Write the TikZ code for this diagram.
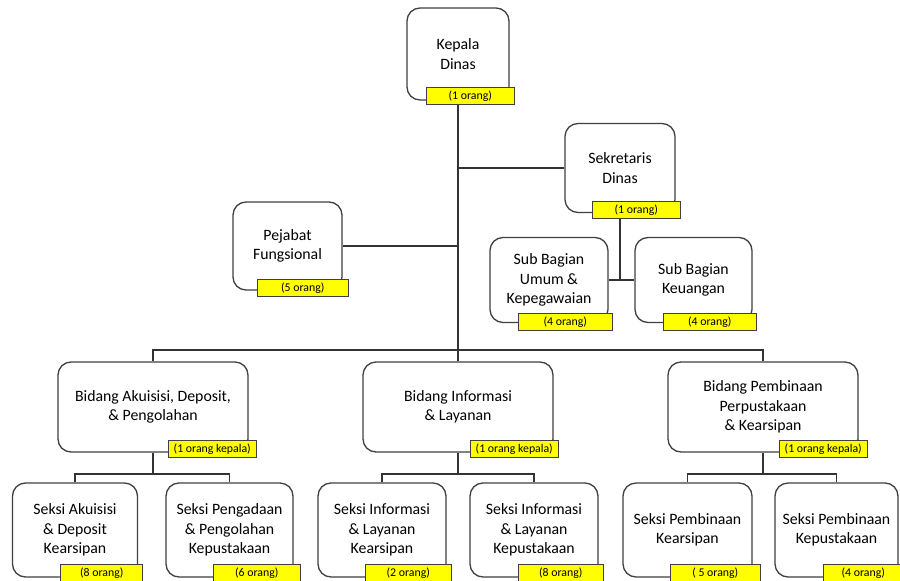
\documentclass[tikz,border=0pt]{standalone}
\usepackage{fontspec}
\setmainfont{Carlito}
\usepackage{tikz}
\usetikzlibrary{positioning, calc, backgrounds}
\definecolor{boxline}{HTML}{404040}
\definecolor{countfill}{HTML}{FFFF00}

\begin{document}
\begin{tikzpicture}[
  x=1pt, y=-1pt,
  unit/.style={rectangle, draw=boxline, line width=1.3pt, fill=white, rounded corners=13pt, align=center, inner sep=0pt, font=\fontsize{15.8}{19.5}\selectfont},
  bidang/.style={unit, minimum width=190pt, minimum height=90pt},
  seksi/.style={unit, minimum width=127pt, minimum height=94pt},
  count/.style={rectangle, draw=boxline, line width=0.8pt, fill=countfill, minimum width=88pt, minimum height=17pt, inner sep=0pt, anchor=south east, font=\fontsize{11.8}{12}\selectfont},
  link/.style={draw=boxline!80!black, line width=1.8pt}
]
  \useasboundingbox (0,0) rectangle (900,581);

  % pimpinan
  \node[unit, minimum width=102pt, minimum height=92pt] (kepala) at (458,54) {Kepala\\Dinas};
  \node[unit, minimum width=110pt, minimum height=89pt] (sek) at (620,168) {Sekretaris\\Dinas};
  \node[unit, minimum width=109pt, minimum height=88pt] (pejabat) at (287.5,246) {Pejabat\\Fungsional};
  \node[unit, minimum width=118pt, minimum height=85pt] (subumum) at (549,280) {Sub Bagian\\Umum \&\\Kepegawaian};
  \node[unit, minimum width=117pt, minimum height=85pt] (subkeu) at (693.5,280) {Sub Bagian\\Keuangan};

  % bidang
  \node[bidang] (bakuisisi) at (153,407) {Bidang Akuisisi, Deposit,\\\& Pengolahan};
  \node[bidang] (binfo) at (458,407) {Bidang Informasi\\\& Layanan};
  \node[bidang] (bpembinaan) at (763,407) {Bidang Pembinaan\\Perpustakaan\\\& Kearsipan};

  % seksi
  \node[seksi, minimum width=125pt] (s1) at (75,530) {Seksi Akuisisi\\\& Deposit\\Kearsipan};
  \node[seksi] (s2) at (229.5,530) {Seksi Pengadaan\\\& Pengolahan\\Kepustakaan};
  \node[seksi, minimum width=128pt] (s3) at (382,530) {Seksi Informasi\\\& Layanan\\Kearsipan};
  \node[seksi, minimum width=128pt] (s4) at (534,530) {Seksi Informasi\\\& Layanan\\Kepustakaan};
  \node[seksi, minimum width=129pt] (s5) at (687.5,530) {Seksi Pembinaan\\Kearsipan};
  \node[seksi, minimum width=123pt] (s6) at (836.5,530) {Seksi Pembinaan\\Kepustakaan};

  % garis
  \begin{scope}[on background layer]
    \coordinate (bus) at (458,350);
    \draw[link] (kepala) -- (bus);
    \draw[link] (sek.west) -- (sek.west -| kepala);
    \draw[link] (pejabat.east) -- (pejabat.east -| kepala);
    \draw[link] (sek.south) -- (sek.south |- subumum.east);
    \draw[link] (subumum.east) -- (subkeu.west);
    \draw[link] (bakuisisi.north) |- (bus) -| (bpembinaan.north);
    \draw[link] (binfo.north) -- (bus);
    \foreach \b/\l/\r in {bakuisisi/s1/s2, binfo/s3/s4, bpembinaan/s5/s6} {
      \draw[link] (\b.south) -- ++(0,21) coordinate (\b-j);
      \draw[link] (\l.north) |- (\b-j) -| (\r.north);
    }
  \end{scope}

  % jumlah pegawai
  \node[count] (kepala-n) at ($(kepala.south east)+(5,4)$) {(1 orang)};
  \node[count] (sek-n) at ($(sek.south east)+(5,6)$) {(1 orang)};
  \node[count, minimum width=91pt] (pejabat-n) at ($(pejabat.south east)+(6,6)$) {(5 orang)};
  \node[count, minimum width=94pt] (subumum-n) at ($(subumum.south east)+(4,8)$) {(4 orang)};
  \node[count, minimum width=93pt] (subkeu-n) at ($(subkeu.south east)+(4,8)$) {(4 orang)};
  \node[count] (bakuisisi-n) at ($(bakuisisi.south east)+(8,5)$) {(1 orang kepala)};
  \node[count] (binfo-n) at ($(binfo.south east)+(5,5)$) {(1 orang kepala)};
  \node[count] (bpembinaan-n) at ($(bpembinaan.south east)+(9,5)$) {(1 orang kepala)};
  \node[count, minimum width=82pt] (s1-n) at ($(s1.south east)+(5,4)$) {(8 orang)};
  \node[count, minimum width=87pt] (s2-n) at ($(s2.south east)+(7,4)$) {(6 orang)};
  \node[count, minimum width=86pt] (s3-n) at ($(s3.south east)+(5,4)$) {(2 orang)};
  \node[count, minimum width=85pt] (s4-n) at ($(s4.south east)+(5,4)$) {(8 orang)};
  \node[count, minimum width=90pt] (s5-n) at ($(s5.south east)+(8,4)$) {( 5 orang)};
  \node[count, minimum width=80pt] (s6-n) at ($(s6.south east)+(5,4)$) {(4 orang)};
\end{tikzpicture}
\end{document}
